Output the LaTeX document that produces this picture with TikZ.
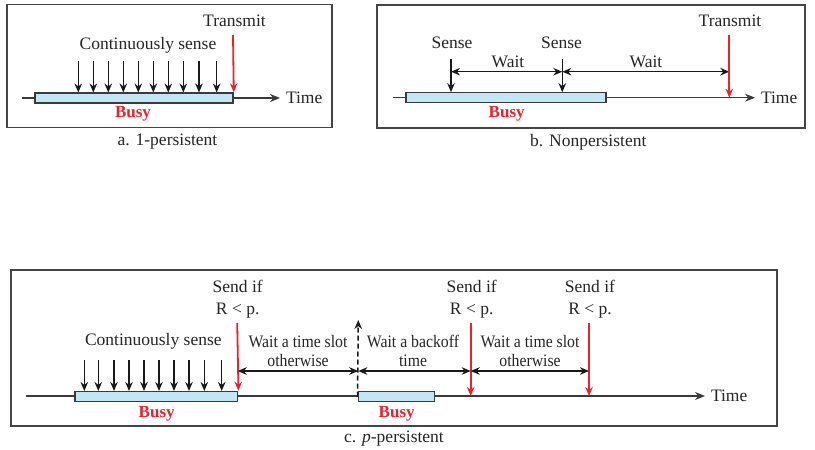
\documentclass[tikz,border=0pt]{standalone}
\usepackage{fontspec}
\setmainfont{Liberation Serif}
\newfontfamily\condfont[FakeStretch=0.9]{Liberation Serif}
\usetikzlibrary{arrows.meta}
\definecolor{redarr}{HTML}{E8232D}
\definecolor{busyfill}{HTML}{C3E6F4}
\definecolor{framecol}{HTML}{454545}
\definecolor{linecol}{HTML}{3A3A3A}
\begin{document}
\begin{tikzpicture}[x=1pt,y=-1pt,
  every node/.style={font=\fontsize{17.5}{21.5}\selectfont, inner sep=1pt, text=black!85},
  frame/.style={draw=framecol, line width=1.8pt},
  timeline/.style={draw=linecol, line width=1.5pt, -{Stealth[length=10pt,width=8pt]}},
  timelbl/.style={anchor=west, outer sep=5pt},
  busybox/.style={draw=linecol, fill=busyfill, line width=1.5pt, minimum height=10pt, inner sep=0pt},
  busylbl/.style={text=redarr, font=\fontsize{17}{20}\selectfont\bfseries},
  sensearr/.style={draw=black!90, line width=1.5pt, -{Stealth[length=9pt,width=7.5pt]}},
  redarrow/.style={draw=redarr, line width=1.8pt, -{Stealth[length=9pt,width=7.5pt]}},
  dimarr/.style={draw=black!90, line width=1.5pt, {Stealth[length=9pt,width=7.5pt]}-{Stealth[length=9pt,width=7.5pt]}},
  dashedarr/.style={draw=black!90, line width=1.5pt, dash pattern=on 5pt off 3pt, -{Stealth[length=9pt,width=7.5pt]}},
  waitlbl/.style={align=center, font=\fontsize{17.5}{21.5}\condfont},
  sendlbl/.style={align=center}
]
\fill[white] (0,0) rectangle (815,450);
\useasboundingbox (0,0) rectangle (815,450);

% ---------- Panel a ----------
\draw[frame] (7,4.5) rectangle (331.7,127.5);
\coordinate (tsA) at (22,98);
\node[timelbl] (timeA) at (280,98) {Time};
\draw[timeline] (tsA) -- (timeA.west);
\node[busybox, minimum width=198pt] (bA) at (134,98) {};
\node[busylbl] (busyA) at (133,114) {Busy};
\node (contA) at (148,45) {Continuously sense};
\foreach \x in {78.3,93.3,108.3,123.3,138.3,153.3,168.3,183.3,199,216.7}
  \draw[sensearr] (\x,61) -- (\x,92.5);
\node (trA) at (234.5,21) {Transmit};
\coordinate (rA) at (233,35);
\draw[redarrow] (rA) -- (bA.north east);
\node (capA) at (167.5,142) {a. 1-persistent};

% ---------- Panel b ----------
\draw[frame] (377.3,4.7) rectangle (805,127.7);
\coordinate (tsB) at (393.3,97.7);
\node[timelbl] (timeB) at (755,97.7) {Time};
\draw[timeline] (tsB) -- (timeB.west);
\node[busybox, minimum width=200pt] (bB) at (506,97.7) {};
\node[busylbl] (busyB) at (506.7,114) {Busy};
\node (s1) at (452,43) {Sense};
\node (s2) at (561.5,43) {Sense};
\coordinate (s1t) at (451,59);
\coordinate (s1b) at (451,92.2);
\coordinate (s2t) at (562.3,59);
\coordinate (s2b) at (562.3,92.2);
\draw[sensearr] (s1t) -- (s1b);
\draw[sensearr] (s2t) -- (s2b);
\coordinate (w1) at (451,71.7);
\coordinate (w2) at (562.3,71.7);
\coordinate (w3) at (729.3,71.7);
\draw[dimarr] (w1) -- (w2);
\draw[dimarr] (w2) -- (w3);
\node (wait1) at (508,62) {Wait};
\node (wait2) at (646,62) {Wait};
\node (trB) at (730,20.7) {Transmit};
\coordinate (rBt) at (729.3,35);
\coordinate (rBb) at (729.3,97.7);
\draw[redarrow] (rBt) -- (rBb);
\node (capB) at (588.3,142) {b. Nonpersistent};

% ---------- Panel c ----------
\draw[frame] (10.7,270) rectangle (777.3,425.7);
\coordinate (tsC) at (26,396);
\node[timelbl] (timeC) at (705,396) {Time};
\draw[timeline] (tsC) -- (timeC.west);
\node[busybox, minimum width=162.7pt] (bC1) at (156.35,396.5) {};
\node[busybox, minimum width=76pt] (bC2) at (396.3,396.5) {};
\node[busylbl] (busyC1) at (156.7,414) {Busy};
\node[busylbl] (busyC2) at (396.7,414) {Busy};
\node (contC) at (153.3,341) {Continuously sense};
\foreach \x in {84.3,98.3,114,129,144,159,174,189,204.3,221.7}
  \draw[sensearr] (\x,360) -- (\x,391);
% red send arrows
\node[sendlbl] (send1) at (237.7,299) {Send if\\R < p.};
\node[sendlbl] (send2) at (471.7,299) {Send if\\R < p.};
\node[sendlbl] (send3) at (590,299) {Send if\\R < p.};
\coordinate (r1t) at (237.2,323);
\coordinate (r2t) at (470.7,323);
\coordinate (r2b) at (470.7,396);
\coordinate (r3t) at (589,323);
\coordinate (r3b) at (589,396);
\draw[redarrow] (r1t) -- (bC1.north east);
\draw[redarrow] (r2t) -- (r2b);
\draw[redarrow] (r3t) -- (r3b);
% dashed arrow
\coordinate (dtop) at (358.3,320);
\draw[dashedarr] (bC2.west) -- (dtop);
% dimension arrows
\coordinate (d1) at (237.7,371);
\coordinate (d2) at (358.3,371);
\coordinate (d3) at (470.7,371);
\coordinate (d4) at (589,371);
\draw[dimarr] (d1) -- (d2);
\draw[dimarr] (d2) -- (d3);
\draw[dimarr] (d3) -- (d4);
\node[waitlbl] (wt1) at (298,351) {Wait a time slot\\[-2.5pt]otherwise};
\node[waitlbl] (wt2) at (413,351) {Wait a backoff\\[-2.5pt]time};
\node[waitlbl] (wt3) at (530,351) {Wait a time slot\\[-2.5pt]otherwise};
\node (capC) at (394,438.3) {c. \textit{p}-persistent};
\end{tikzpicture}
\end{document}
